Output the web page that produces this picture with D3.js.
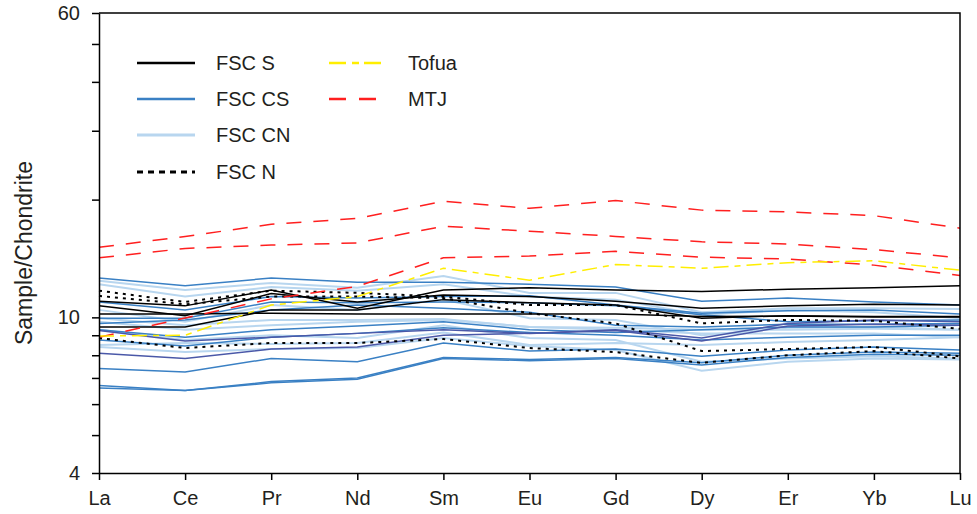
<!DOCTYPE html>
<html>
<head>
<meta charset="utf-8">
<script src="https://cdn.jsdelivr.net/npm/d3@7"></script>
<style>
   body { margin: 0; background: #fff; }
   svg text { font-family: Arial, "Liberation Sans", sans-serif; fill: #231f20; }
</style>
</head>
<body>
<svg id="chart" width="977" height="514"></svg>
<script>
// Rare earth elements on the x axis
const elements = ["La", "Ce", "Pr", "Nd", "Sm", "Eu", "Gd", "Dy", "Er", "Yb", "Lu"];

// Chondrite-normalised values, one array per sample
const fscS = [
   [11.0, 10.7, 11.75, 10.55, 11.75, 11.9, 11.75, 11.65, 11.8, 11.9, 12.05],
   [10.7, 10.1, 11.5, 10.95, 11.4, 11.3, 11.0, 10.55, 10.7, 10.8, 10.75],
   [10.2, 10.2, 10.25, 10.2, 10.2, 10.2, 10.2, 10.05, 10.08, 10.02, 10.02],
   [9.45, 9.45, 10.45, 10.45, 11.1, 10.9, 10.75, 9.95, 10.1, 10.05, 10.05]
];

const fscCS = [
   [12.6, 12.05, 12.6, 12.3, 12.3, 12.15, 11.95, 11.0, 11.2, 10.95, 10.75],
   [10.95, 10.45, 11.3, 11.2, 11.3, 11.35, 10.75, 10.25, 10.4, 10.45, 10.2],
   [9.95, 9.95, 10.95, 10.9, 10.95, 10.9, 10.7, 10.15, 9.75, 9.8, 9.85],
   [9.65, 9.85, 10.45, 10.75, 10.55, 10.3, 9.55, 9.45, 9.6, 9.6, 9.65],
   [9.3, 8.9, 9.3, 9.5, 9.75, 9.3, 9.15, 9.3, 9.45, 9.45, 9.55],
   [8.75, 8.45, 8.9, 9.1, 9.4, 9.15, 9.0, 8.75, 8.9, 9.0, 9.0],
   [7.4, 7.25, 7.85, 7.7, 8.6, 8.2, 8.3, 7.95, 8.25, 8.4, 8.25],
   [6.7, 6.5, 6.85, 7.0, 7.9, 7.8, 7.9, 7.65, 8.0, 8.15, 8.1],
   [6.6, 6.5, 6.8, 6.95, 7.85, 7.75, 7.85, 7.55, 7.9, 8.05, 8.0]
];

// two CS samples drawn in a darker blue
const fscCSdark = [
   [8.1, 7.85, 8.3, 8.4, 9.0, 9.1, 9.3, 8.85, 9.65, 9.85, 9.75],
   [9.25, 8.7, 8.9, 9.1, 9.3, 9.1, 9.25, 8.7, 9.5, 9.6, 9.55]
];

const fscCN = [
   [12.4, 11.75, 12.25, 11.9, 12.75, 11.55, 11.55, 10.3, 10.55, 10.55, 10.5],
   [12.15, 11.3, 11.95, 11.7, 12.15, 11.3, 11.1, 10.15, 10.45, 10.3, 9.95],
   [10.45, 9.75, 10.75, 10.45, 11.1, 9.95, 9.85, 9.0, 9.4, 9.45, 9.3],
   [9.95, 9.55, 9.85, 9.85, 9.9, 9.45, 9.4, 9.3, 9.3, 9.35, 9.3],
   [9.75, 9.3, 9.55, 9.75, 9.85, 9.45, 9.3, 9.1, 9.1, 9.1, 8.9],
   [9.3, 8.75, 9.0, 8.85, 9.55, 8.85, 8.75, 7.7, 7.85, 7.95, 7.85],
   [8.5, 8.6, 8.55, 8.6, 9.15, 8.5, 8.6, 8.5, 8.65, 8.75, 8.9],
   [8.4, 8.15, 8.3, 8.35, 8.85, 8.45, 8.25, 7.3, 7.7, 7.85, 7.8]
];

const fscN = [
   [11.7, 10.95, 11.7, 11.55, 11.3, 10.75, 10.75, 9.65, 9.85, 9.8, 9.35],
   [11.35, 10.8, 11.3, 11.3, 11.2, 10.25, 9.65, 8.2, 8.3, 8.4, 7.95],
   [8.85, 8.35, 8.6, 8.6, 8.8, 8.35, 8.15, 7.65, 8.0, 8.2, 7.85]
];

const tofua = [
   [8.96, 9.0, 10.75, 11.3, 13.35, 12.45, 13.65, 13.35, 13.8, 13.95, 13.2]
];

const mtj = [
   [15.1, 16.1, 17.3, 17.9, 19.8, 19.0, 19.9, 18.8, 18.6, 18.2, 16.9],
   [14.2, 15.0, 15.3, 15.5, 17.1, 16.6, 16.1, 15.6, 15.4, 14.9, 14.2],
   [8.9, 9.96, 11.15, 12.0, 14.2, 14.35, 14.75, 14.25, 14.1, 13.6, 12.8]
];

const yTicks = [4, 5, 6, 7, 8, 9, 10, 20, 30, 40, 50, 60];
const yLabels = [4, 10, 60];

// Group styles, drawing order = list order
// legend: [column, row] or null; legendDash: pattern used for the key only
const groups = [
   { name: "FSC CN", data: fscCN, color: "#b8d6ef", width: 2, dash: null, legend: [0, 2] },
   { name: "FSC CS", data: fscCS, color: "#3a80c4", width: 1.5, dash: null, legend: [0, 1] },
   { name: "FSC CS dark", data: fscCSdark, color: "#4a58a8", width: 1.5, dash: null, legend: null },
   { name: "FSC S", data: fscS, color: "#000000", width: 1.5, dash: null, legend: [0, 0] },
   { name: "FSC N", data: fscN, color: "#000000", width: 2, dash: "3,5", legend: [0, 3], legendDash: "6,5" },
   { name: "MTJ", data: mtj, color: "#ff1f1f", width: 1.5, dash: "15,12", legend: [1, 1], legendDash: "17,13" },
   { name: "Tofua", data: tofua, color: "#ffee00", width: 1.5, dash: "15,6,6,6", legend: [1, 0], legendDash: "17,6,7,5" }
];

const svg = d3.select("#chart");
const plotLeft = 99, plotRight = 960, plotTop = 13, plotBottom = 473;

const x = d3.scalePoint().domain(elements).range([plotLeft, plotRight]);
const y = d3.scaleLog().domain([4, 60]).range([plotBottom, plotTop]);

// Sample lines
const line = d3.line()
   .x((d, i) => x(elements[i]))
   .y(d => y(d));

groups.forEach(g => {
   svg.append("g")
      .attr("fill", "none")
      .attr("stroke", g.color)
      .attr("stroke-width", g.width)
      .attr("stroke-dasharray", g.dash)
      .selectAll("path")
      .data(g.data)
      .join("path")
      .attr("d", line);
});

// Frame
svg.append("path")
   .attr("d", `M${plotLeft},${plotTop}H${plotRight}V${plotBottom}`)
   .attr("fill", "none")
   .attr("stroke", "#000")
   .attr("stroke-width", 1.5);

// Axes
const yAxis = svg.append("g")
   .attr("transform", `translate(${plotLeft},0)`)
   .call(d3.axisLeft(y)
      .tickValues(yTicks)
      .tickFormat(d => yLabels.includes(d) ? d : "")
      .tickSize(7)
      .tickPadding(12)
      .tickSizeOuter(0));

const xAxis = svg.append("g")
   .attr("transform", `translate(0,${plotBottom})`)
   .call(d3.axisBottom(x)
      .tickSize(7)
      .tickPadding(9)
      .tickSizeOuter(0));

[yAxis, xAxis].forEach(a => {
   a.select(".domain").attr("stroke-width", 1.5);
   a.selectAll(".tick line").attr("stroke-width", 1.5);
   a.selectAll("text")
      .attr("font-size", 20)
      .attr("font-family", "Arial, 'Liberation Sans', sans-serif")
      .attr("fill", "#231f20");
});
xAxis.selectAll("text").attr("dy", "0.78em");

// Axis title
svg.append("text")
   .attr("transform", `translate(32,${(plotTop + plotBottom) / 2 + 10}) rotate(-90)`)
   .attr("text-anchor", "middle")
   .attr("font-size", 23)
   .text("Sample/Chondrite");

// Legend
const legendCols = [137, 329];
const legendRows = [63, 99, 135, 172];
const legend = svg.append("g");
groups.filter(g => g.legend).forEach(g => {
   const lx = legendCols[g.legend[0]];
   const ly = legendRows[g.legend[1]];
   legend.append("line")
      .attr("x1", lx)
      .attr("x2", lx + 58)
      .attr("y1", ly)
      .attr("y2", ly)
      .attr("stroke", g.color)
      .attr("stroke-width", g.width + 1)
      .attr("stroke-dasharray", g.legendDash || g.dash);
   legend.append("text")
      .attr("x", lx + 79)
      .attr("y", ly)
      .attr("dy", "0.35em")
      .attr("font-size", 20)
      .text(g.name);
});
</script>
</body>
</html>
